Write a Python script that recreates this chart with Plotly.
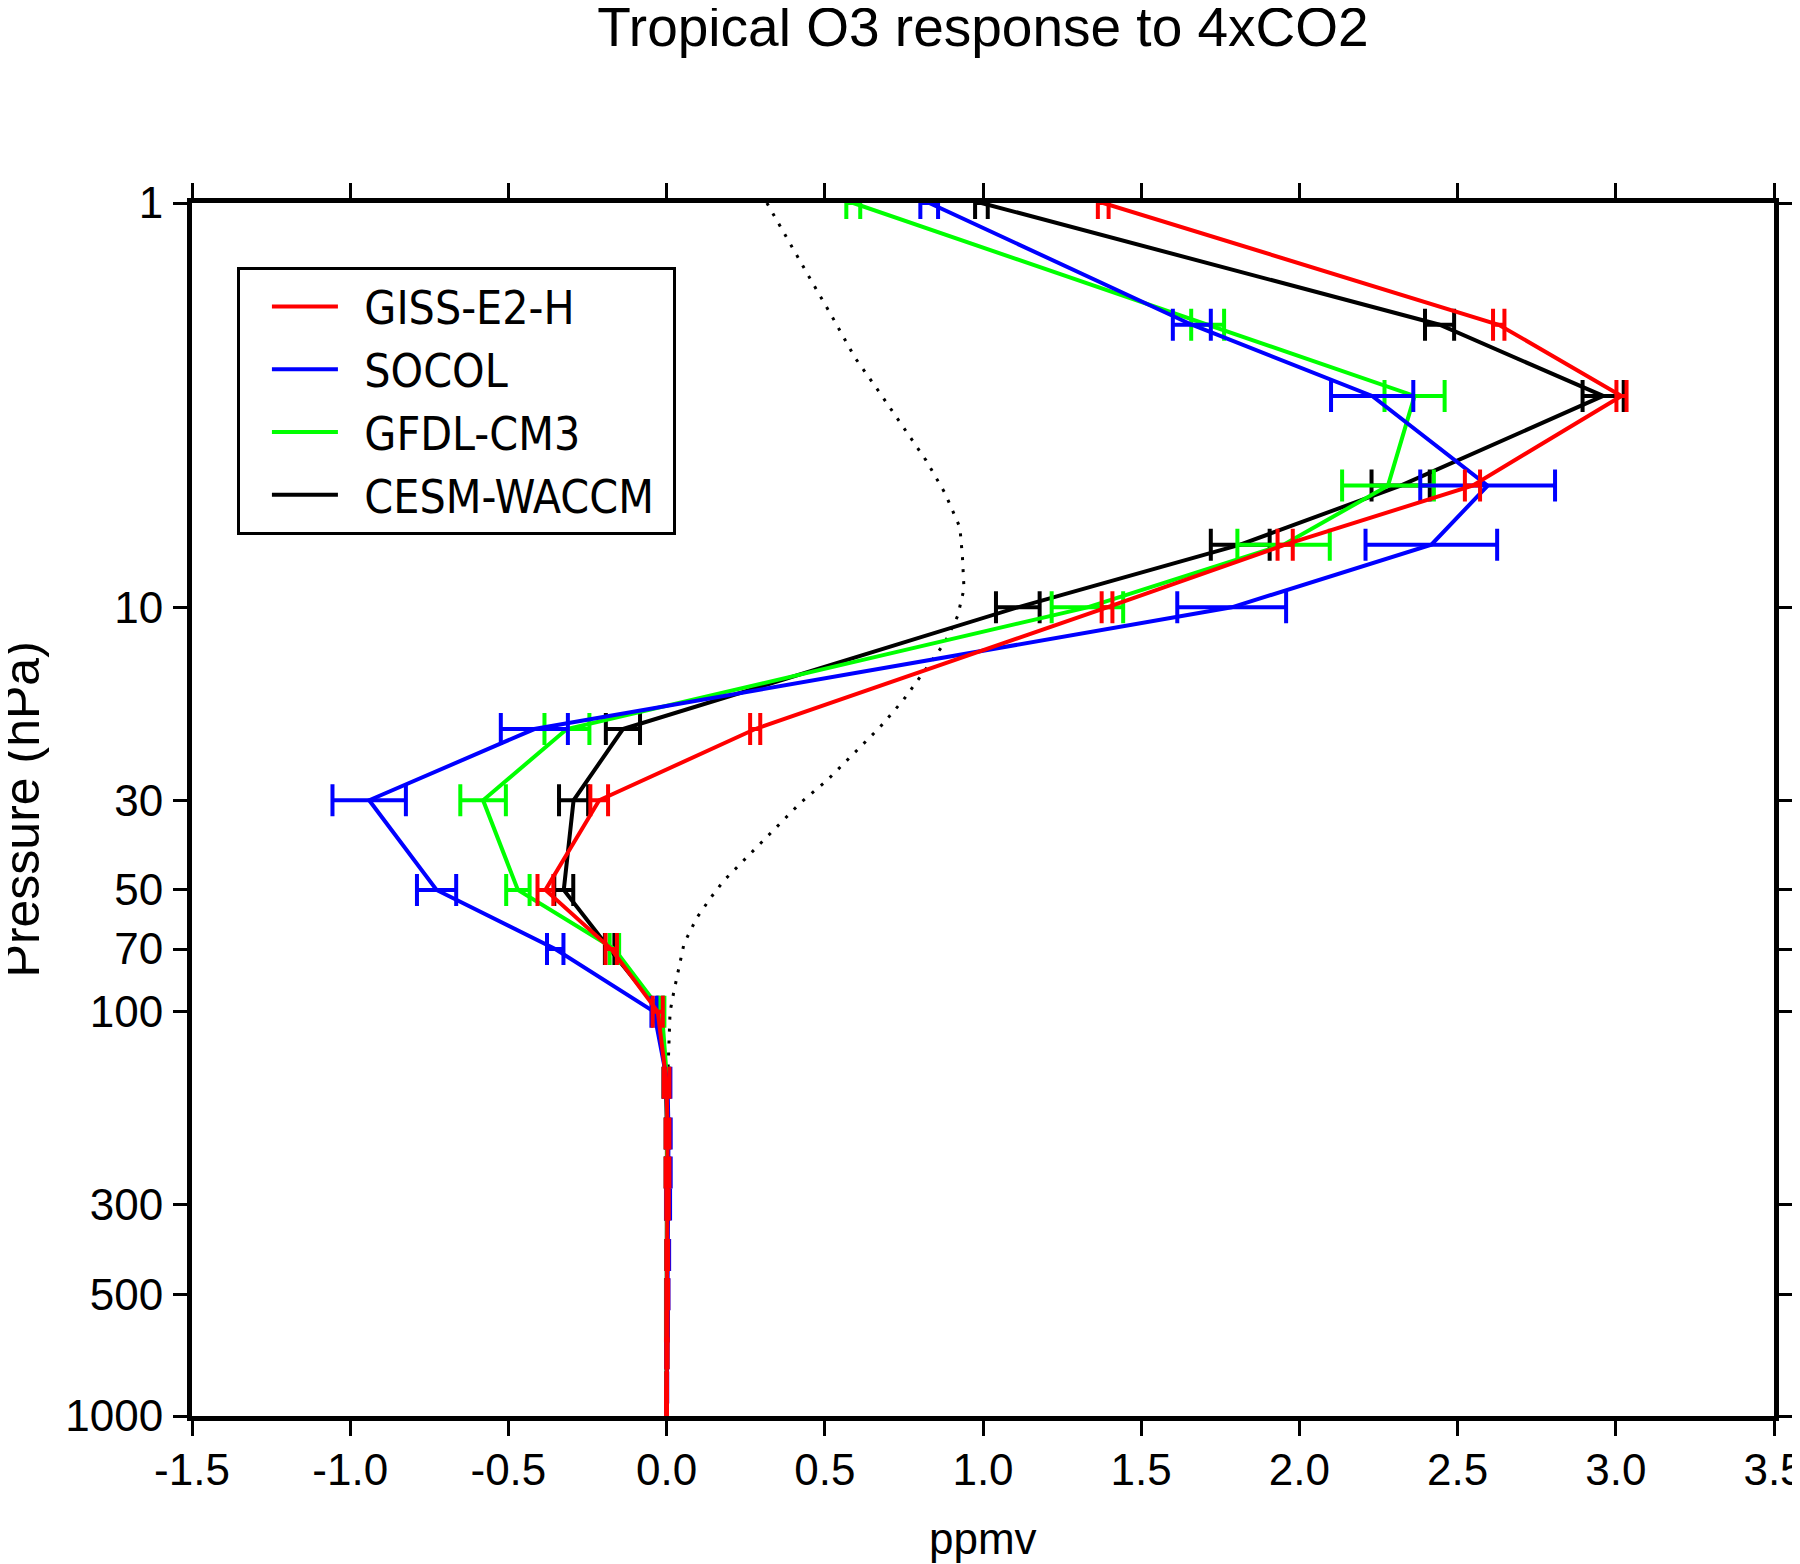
import plotly.graph_objects as go

# Pressure levels (hPa)
plev = [1, 2, 3, 5, 7, 10, 20, 30, 50, 70, 100, 150, 200, 250, 300, 400, 500, 600, 700, 850, 925, 1000]

models = ["GISS-E2-H", "SOCOL", "GFDL-CM3", "CESM-WACCM"]
colors = ["#FF0000", "#0000FF", "#00FF00", "#000000"]

giss = [1.38, 2.63, 3.018, 2.547, 1.955, 1.392, 0.28, -0.213, -0.383, -0.175, -0.028, 0.0,
        0.003, 0.003, 0.003, 0.002, 0.002, 0.001, 0.001, 0.0, 0.0, 0.0]
giss_err = [0.017, 0.018, 0.016, 0.024, 0.024, 0.017, 0.016, 0.028, 0.025, 0.018, 0.016, 0.009,
            0.006, 0.006, 0.004, 0.003, 0.003, 0.002, 0.002, 0.001, 0.001, 0.001]

socol = [0.83, 1.66, 2.23, 2.595, 2.417, 1.786, -0.418, -0.94, -0.727, -0.352, -0.04, 0.003,
         0.006, 0.006, 0.005, 0.004, 0.003, 0.002, 0.001, 0.001, 0.0, 0.0]
socol_err = [0.028, 0.06, 0.13, 0.213, 0.208, 0.172, 0.106, 0.116, 0.062, 0.026, 0.008, 0.009,
             0.007, 0.007, 0.006, 0.004, 0.003, 0.002, 0.002, 0.001, 0.001, 0.001]

gfdl = [0.59, 1.71, 2.364, 2.28, 1.95, 1.33, -0.315, -0.58, -0.47, -0.165, -0.015, 0.002,
        0.002, 0.002, 0.002, 0.001, 0.001, 0.001, 0.001, 0.0, 0.0, 0.0]
gfdl_err = [0.022, 0.052, 0.095, 0.145, 0.146, 0.113, 0.071, 0.072, 0.037, 0.015, 0.008, 0.006,
            0.004, 0.004, 0.003, 0.002, 0.002, 0.002, 0.001, 0.001, 0.001, 0.001]

cesm = [0.995, 2.443, 2.96, 2.32, 1.813, 1.11, -0.138, -0.294, -0.325, -0.18, -0.02, -0.002,
        0.001, 0.001, 0.001, 0.001, 0.0, 0.0, 0.0, 0.0, 0.0, 0.0]
cesm_err = [0.02, 0.046, 0.065, 0.092, 0.093, 0.069, 0.054, 0.046, 0.03, 0.015, 0.008, 0.008,
            0.004, 0.004, 0.003, 0.002, 0.002, 0.002, 0.001, 0.001, 0.001, 0.001]

# Reference (dotted) profile
ref_p = [1, 1.24, 1.55, 1.91, 2.41, 2.95, 3.58, 4.33, 5.22, 6.34, 7.5, 9.0, 10.5, 12.2, 14.3,
         17.0, 19.8, 23.0, 26.8, 30.5, 35.7, 41.6, 47.4, 52.2, 58.5, 67.9, 80, 90, 100, 128,
         166, 200, 400, 700, 1000]
ref_v = [0.317, 0.384, 0.456, 0.523, 0.595, 0.674, 0.747, 0.82, 0.88, 0.927, 0.935, 0.94, 0.92,
         0.88, 0.817, 0.747, 0.674, 0.592, 0.507, 0.422, 0.336, 0.251, 0.181, 0.14, 0.096, 0.055,
         0.035, 0.022, 0.011, 0.005, 0.001, 0.0, 0.0, 0.0, 0.0]

x_ticks = [-1.5, -1.0, -0.5, 0.0, 0.5, 1.0, 1.5, 2.0, 2.5, 3.0, 3.5]
x_ticktext = ["-1.5", "-1.0", "-0.5", "0.0", "0.5", "1.0", "1.5", "2.0", "2.5", "3.0", "3.5"]
y_ticks = [1, 10, 30, 50, 70, 100, 300, 500, 1000]
y_ticktext = ["1", "10", "30", "50", "70", "100", "300", "500", "1000"]

LEGF = "DejaVu Sans Condensed, Liberation Sans, Arial, sans-serif"
REG = "Liberation Sans, Arial, sans-serif"

fig = go.Figure()

fig.add_trace(go.Scatter(
    x=ref_v, y=ref_p, mode="lines", showlegend=False,
    line=dict(color="black", width=3, dash="3px,9px"), hoverinfo="skip"))

series = [(cesm, cesm_err, 3), (gfdl, gfdl_err, 2), (socol, socol_err, 1), (giss, giss_err, 0)]
for vals, errs, idx in series:
    fig.add_trace(go.Scatter(
        x=vals, y=plev, mode="lines", name="\u00a0\u2009" + models[idx] + "\u00a0",
        line=dict(color=colors[idx], width=4),
        error_x=dict(type="data", array=errs, visible=True, color=colors[idx],
                     thickness=4, width=16),
        cliponaxis=False, legendrank=idx + 1))

axis_common = dict(showline=True, linecolor="black", linewidth=5, mirror="allticks",
                   ticks="outside", tickcolor="black", tickwidth=3, showgrid=False,
                   zeroline=False, tickfont=dict(family=REG, size=44, color="black"),
                   ticklabeloverflow="allow")

fig.update_xaxes(range=[-1.5, 3.5], tickvals=x_ticks, ticktext=x_ticktext, ticklen=15,
                 ticklabelstandoff=-4, **axis_common)
fig.update_yaxes(type="log", range=[3, 0], tickvals=y_ticks, ticktext=y_ticktext, ticklen=14,
                 ticklabelstandoff=1, **axis_common)

fig.add_annotation(text="Pressure (hPa)", textangle=-90, xref="paper", yref="paper",
                   x=-0.1075, y=0.5, xanchor="center", yanchor="middle", showarrow=False,
                   font=dict(family=REG, size=50, color="black"))
fig.add_annotation(text="ppmv", xref="paper", yref="paper",
                   x=0.5, y=-0.1006, xanchor="center", yanchor="middle", showarrow=False,
                   font=dict(family=REG, size=44, color="black"))

fig.update_layout(
    width=1800, height=1564,
    margin=dict(l=184, r=34, t=195, b=156, autoexpand=False),
    paper_bgcolor="white", plot_bgcolor="white",
    title=dict(text="Tropical O3 response to 4xCO2", x=975 / 1800, xanchor="center",
               y=1 - 19 / 1564, yanchor="middle",
               font=dict(family=REG, size=55, color="black")),
    legend=dict(x=0.0284, y=0.9472, xanchor="left", yanchor="top",
                bgcolor="white", bordercolor="black", borderwidth=3,
                font=dict(family=LEGF, size=46, color="black"),
                itemwidth=66, indentation=27, traceorder="normal"),
    showlegend=True,
)

fig.write_html("out.html")
